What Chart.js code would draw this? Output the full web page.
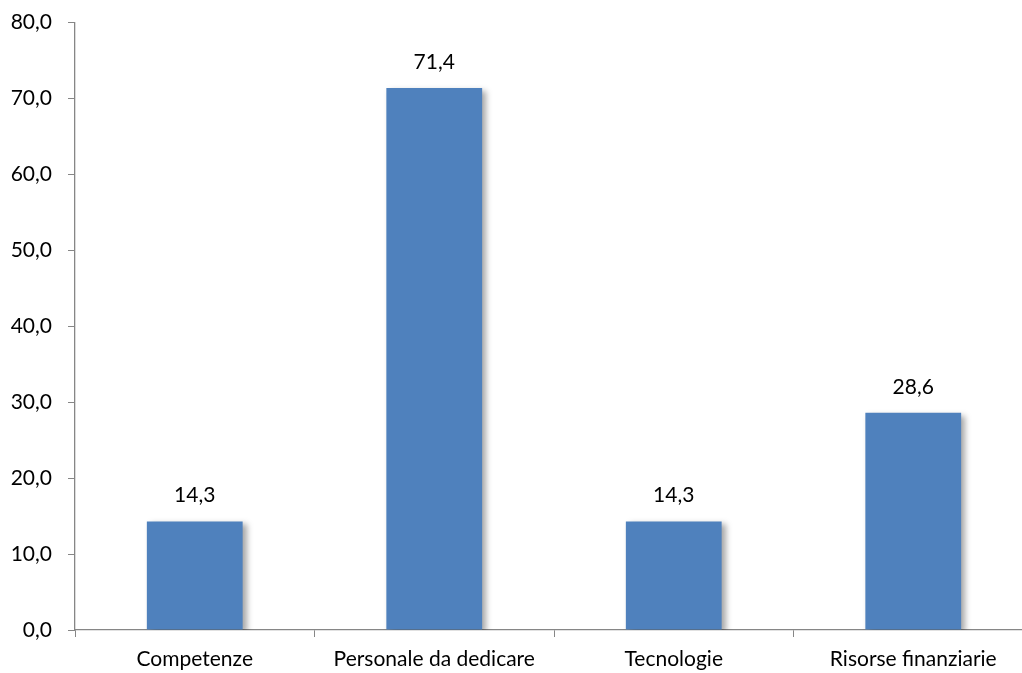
<!DOCTYPE html>
<html>
<head>
<meta charset="utf-8">
<script src="https://cdn.jsdelivr.net/npm/chart.js@4.4.1/dist/chart.umd.min.js"></script>
<style>
  html, body { margin: 0; padding: 0; background: #fff; overflow: hidden; }
  /* a bit wider than the window: the last category runs off the right edge in the original */
  #wrap { width: 1040px; height: 679px; position: relative; top: -6px; }
</style>
</head>
<body>
<div id="wrap"><canvas id="barChart"></canvas></div>
<script>
// data
const categories = ['Competenze', 'Personale da dedicare', 'Tecnologie', 'Risorse finanziarie'];
const values = [14.3, 71.4, 14.3, 28.6];
const yTicks = [0, 10, 20, 30, 40, 50, 60, 70, 80];

const barColor = '#4F81BD';
const axisColor = '#868686';
const fontFamily = 'Lato, "Open Sans", sans-serif';
const fontSize = 21;

const fmt = v => v.toFixed(1).replace('.', ',');

// soft shadow behind the bars, like the office chart
const barShadow = {
  id: 'barShadow',
  beforeDatasetsDraw(chart) {
    const ctx = chart.ctx;
    ctx.save();
    ctx.shadowColor = 'rgba(0,0,0,0.35)';
    ctx.shadowBlur = 6;
    ctx.shadowOffsetX = 4;
    ctx.shadowOffsetY = 3;
  },
  afterDatasetsDraw(chart) {
    chart.ctx.restore();
  }
};

// value labels above each bar
const valueLabels = {
  id: 'valueLabels',
  afterDatasetsDraw(chart) {
    const ctx = chart.ctx;
    const meta = chart.getDatasetMeta(0);
    ctx.save();
    ctx.fillStyle = '#000';
    ctx.font = fontSize + 'px ' + fontFamily;
    ctx.textAlign = 'center';
    ctx.textBaseline = 'middle';
    meta.data.forEach((bar, i) => {
      ctx.fillText(fmt(values[i]), bar.x, bar.y - 26);
    });
    ctx.restore();
  }
};

const ctx = document.getElementById('barChart').getContext('2d');
new Chart(ctx, {
  type: 'bar',
  data: {
    labels: categories,
    datasets: [{
      data: values,
      backgroundColor: barColor,
      borderWidth: 0,
      barPercentage: 0.4,
      categoryPercentage: 1
    }]
  },
  options: {
    responsive: true,
    maintainAspectRatio: false,
    animation: false,
    layout: { padding: { top: 3, right: 7, left: 0, bottom: 0 } },
    plugins: {
      legend: { display: false },
      tooltip: { enabled: false }
    },
    scales: {
      x: {
        grid: {
          offset: true,
          drawOnChartArea: false,
          color: axisColor,
          tickLength: 7
        },
        border: { color: axisColor, width: 1.3 },
        ticks: {
          color: '#000',
          font: { family: fontFamily, size: fontSize },
          padding: 10
        },
        afterFit: s => { s.height = 43; }
      },
      y: {
        min: 0,
        max: 80,
        afterBuildTicks: s => { s.ticks = yTicks.map(v => ({ value: v })); },
        grid: {
          drawOnChartArea: false,
          color: axisColor,
          tickLength: 7
        },
        border: { color: axisColor, width: 1.3 },
        ticks: {
          color: '#000',
          font: { family: fontFamily, size: fontSize },
          padding: 16,
          callback: v => fmt(v)
        },
        afterFit: s => { s.width = 75; }
      }
    }
  },
  plugins: [barShadow, valueLabels]
});
</script>
</body>
</html>
